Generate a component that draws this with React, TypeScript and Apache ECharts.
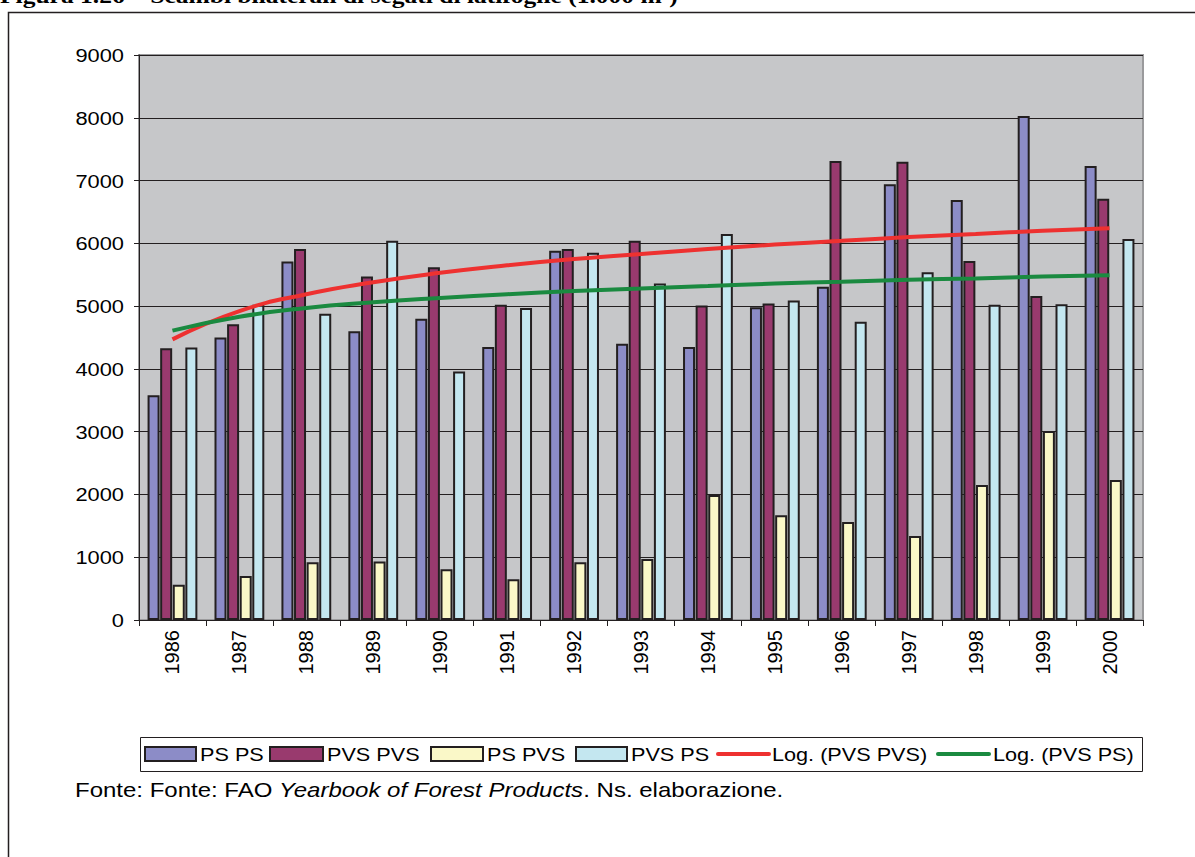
import React, { useEffect, useRef } from "react";
import * as echarts from "echarts";

const years = ["1986", "1987", "1988", "1989", "1990", "1991", "1992", "1993", "1994", "1995", "1996", "1997", "1998", "1999", "2000"];
const psPs = [3580, 4500, 5710, 4600, 4800, 4350, 5880, 4400, 4350, 4980, 5310, 6940, 6690, 8030, 7230];
const pvsPvs = [4330, 4710, 5910, 5470, 5620, 5020, 5910, 6040, 5010, 5040, 7310, 7300, 5720, 5160, 6710];
const psPvs = [560, 700, 920, 930, 810, 650, 920, 970, 1990, 1670, 1560, 1340, 2150, 3010, 2230];
const pvsPs = [4340, 5020, 4880, 6040, 3960, 4970, 5850, 5360, 6150, 5090, 4750, 5540, 5020, 5030, 6070];
const logPvsPvs = [4470, 4920, 5190, 5380, 5530, 5650, 5750, 5830, 5910, 5980, 6040, 6100, 6150, 6200, 6240];
const logPvsPs = [4610, 4830, 4970, 5060, 5130, 5190, 5240, 5280, 5320, 5360, 5390, 5420, 5440, 5470, 5490];
const yTicks = [0, 1000, 2000, 3000, 4000, 5000, 6000, 7000, 8000, 9000];
const seriesNames = ["PS PS", "PVS PVS", "PS PVS", "PVS PS", "Log. (PVS PVS)", "Log. (PVS PS)"];
const seriesColors = ["#8c8cc7", "#993a6e", "#faf8c8", "#c4e7f0", "#ee3130", "#1a8a40"];

const FONT = "'Liberation Sans', Arial, sans-serif";
const BORDER = "#231f20";

// legend layout (pixels): [icon x, icon width, text x]
const legendLayout = [
  [145, 51, 200],
  [270, 53, 327],
  [431, 52, 487],
  [576, 51, 631],
  [718, 51, 772],
  [938, 51, 993],
];

export default function App() {
  const ref = useRef<HTMLDivElement>(null);
  useEffect(() => {
    if (!ref.current) return;
    const chart = echarts.init(ref.current, null, { renderer: "svg" });
    const bar = (i: number, data: number[]) => ({
      name: seriesNames[i],
      type: "bar",
      data,
      barWidth: 12,
      barGap: "5%",
      itemStyle: { color: seriesColors[i], borderColor: BORDER, borderWidth: 2 },
    });
    const line = (i: number, data: number[]) => ({
      name: seriesNames[i],
      type: "line",
      data,
      smooth: true,
      symbol: "none",
      lineStyle: { color: seriesColors[i], width: 4 },
      itemStyle: { color: seriesColors[i] },
      z: 5,
    });
    chart.setOption({
      animation: false,
      backgroundColor: "#ffffff",
      textStyle: { fontFamily: FONT },
      grid: {
        left: 139,
        top: 55,
        right: 52,
        bottom: 237,
        show: true,
        backgroundColor: "#c6c7c9",
        borderColor: "#9a9a9c",
        borderWidth: 2,
      },
      xAxis: {
        type: "category",
        data: years,
        axisLine: { lineStyle: { color: BORDER, width: 1 } },
        axisTick: { show: true, length: 6, lineStyle: { color: BORDER } },
        axisLabel: { rotate: 90, fontSize: 20, color: "#000", margin: 10, fontFamily: FONT },
      },
      yAxis: {
        type: "value",
        min: 0,
        max: 9000,
        interval: 1000,
        axisLine: { show: true, lineStyle: { color: BORDER, width: 1 } },
        axisTick: { show: true, length: 5, lineStyle: { color: BORDER } },
        axisLabel: { show: false },
        splitLine: { show: true, lineStyle: { color: BORDER, width: 1 } },
      },
      series: [
        bar(0, psPs),
        bar(1, pvsPvs),
        bar(2, psPvs),
        bar(3, pvsPs),
        line(4, logPvsPvs),
        line(5, logPvsPs),
      ],
    });

    const graphic: any[] = [
      {
        type: "rect",
        shape: { x: 8.5, y: 12.5, width: 1300, height: 1000 },
        style: { fill: "none", stroke: BORDER, lineWidth: 1.5 },
        silent: true,
        z: -10,
      },
      {
        type: "text",
        x: 0,
        y: 7,
        scaleX: 1.16,
        style: {
          text: "Figura 1.26 – Scambi bilaterali di segati di latifoglie (1.000 m³)",
          font: "bold 22px 'Liberation Serif', 'Times New Roman', serif",
          fill: "#000",
          verticalAlign: "bottom",
        },
      },
      {
        type: "text",
        x: 75,
        y: 790,
        scaleX: 1.2,
        style: {
          text: "{n|Fonte: Fonte: FAO }{i|Yearbook of Forest Products}{n|. Ns. elaborazione.}",
          verticalAlign: "middle",
          rich: {
            n: { fontSize: 20, fontFamily: FONT, fill: "#000", color: "#000" },
            i: { fontSize: 20, fontFamily: FONT, fontStyle: "italic", fill: "#000", color: "#000" },
          },
        },
      },
      {
        type: "rect",
        shape: { x: 140.5, y: 737.5, width: 1002, height: 34 },
        style: { fill: "#ffffff", stroke: BORDER, lineWidth: 1 },
      },
    ];

    yTicks.forEach((v) => {
      const py = chart.convertToPixel({ yAxisIndex: 0 }, v) as number;
      graphic.push({
        type: "text",
        x: 124,
        y: py,
        scaleX: 1.15,
        style: {
          text: String(v),
          font: `19px ${FONT}`,
          fill: "#000",
          align: "right",
          verticalAlign: "middle",
        },
      });
    });

    legendLayout.forEach(([ix, iw, tx], i) => {
      if (i < 4) {
        graphic.push({
          type: "rect",
          shape: { x: ix, y: 747, width: iw, height: 14 },
          style: { fill: seriesColors[i], stroke: BORDER, lineWidth: 2 },
        });
      } else {
        graphic.push({
          type: "line",
          shape: { x1: ix, y1: 754, x2: ix + iw, y2: 754 },
          style: { stroke: seriesColors[i], lineWidth: 4, lineCap: "round" },
        });
      }
      graphic.push({
        type: "text",
        x: tx,
        y: 754,
        scaleX: 1.14,
        style: {
          text: seriesNames[i],
          font: `19px ${FONT}`,
          fill: "#000",
          align: "left",
          verticalAlign: "middle",
        },
      });
    });

    chart.setOption({ graphic });
    return () => chart.dispose();
  }, []);
  return <div ref={ref} style={{ position: "fixed", left: 0, top: 0, width: 1195, height: 857 }} />;
}
